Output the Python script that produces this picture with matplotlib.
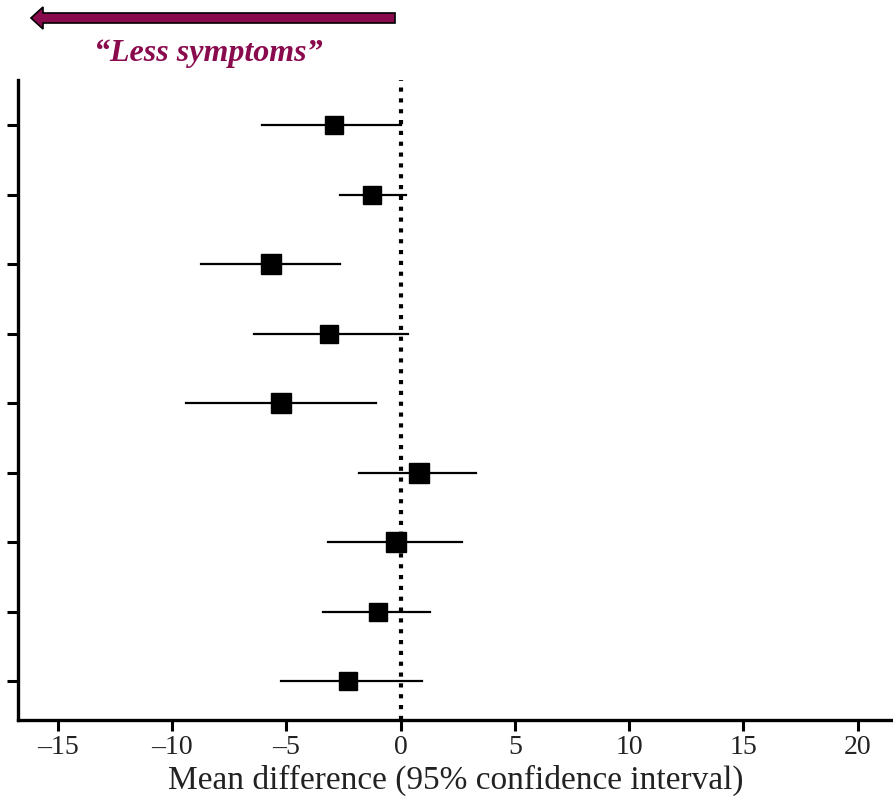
import matplotlib.pyplot as plt
from matplotlib.patches import FancyArrow

# valores (linha 1 = topo)
rows = [1, 2, 3, 4, 5, 6, 7, 8, 9]
mean_diff = [-2.93, -1.27, -5.65, -3.15, -5.25, 0.79, -0.20, -1.00, -2.28]
ci_low = [-6.08, -2.63, -8.72, -6.43, -9.41, -1.82, -3.19, -3.40, -5.25]
ci_high = [0.03, 0.25, -2.63, 0.34, -1.06, 3.28, 2.68, 1.30, 0.92]
box_size = [13, 12.5, 14, 13, 14, 14, 14, 13.5, 13]
xticks = [-15, -10, -5, 0, 5, 10, 15, 20]

maroon = '#8a0a4e'
plt.rcParams['font.family'] = ['Liberation Serif', 'DejaVu Serif']

fig = plt.figure(figsize=(8.93, 8.01), dpi=100)
ax = fig.add_axes([0.02, 0.101, 0.98, 0.799])

ax.axvline(0, color='black', linestyle=(0, (1, 1.6)), linewidth=3, zorder=1)
for r, m, lo, hi, s in zip(rows, mean_diff, ci_low, ci_high, box_size):
    ax.plot([lo, hi], [r, r], color='black', linewidth=1.6, zorder=2)
    ax.plot(m, r, marker='s', markersize=s, color='black', zorder=3)

ax.set_xlim(-16.75, 21.55)
ax.set_ylim(9.56, 0.35)
ax.set_xticks(xticks)
ax.set_xticklabels([f'\u2013{abs(v)}' if v < 0 else str(v) for v in xticks], fontsize=20)
ax.set_yticks(rows)
ax.set_yticklabels([])
ax.tick_params(axis='both', direction='out', length=8, width=2.2)
ax.tick_params(axis='x', pad=3, colors='black', labelcolor='#222222')
ax.spines['top'].set_visible(False)
ax.spines['right'].set_visible(False)
ax.spines['left'].set_linewidth(2.4)
ax.spines['bottom'].set_linewidth(2.4)
ax.set_xlabel('Mean difference (95% confidence interval)', fontsize=24,
              labelpad=3, color='#222222')

# seta "Less symptoms"
arrow = FancyArrow(395 / 893, 1 - 18 / 801, -364 / 893, 0, width=10 / 801,
                   head_width=22 / 801, head_length=12 / 893,
                   length_includes_head=True, transform=fig.transFigure,
                   facecolor=maroon, edgecolor='black', linewidth=1.2)
fig.patches.append(arrow)
fig.text(208 / 893, 1 - 53 / 801, '\u201cLess symptoms\u201d', color=maroon,
         fontsize=23, fontweight='bold', fontstyle='italic',
         ha='center', va='center')

fig.savefig('out.png', dpi=100)
